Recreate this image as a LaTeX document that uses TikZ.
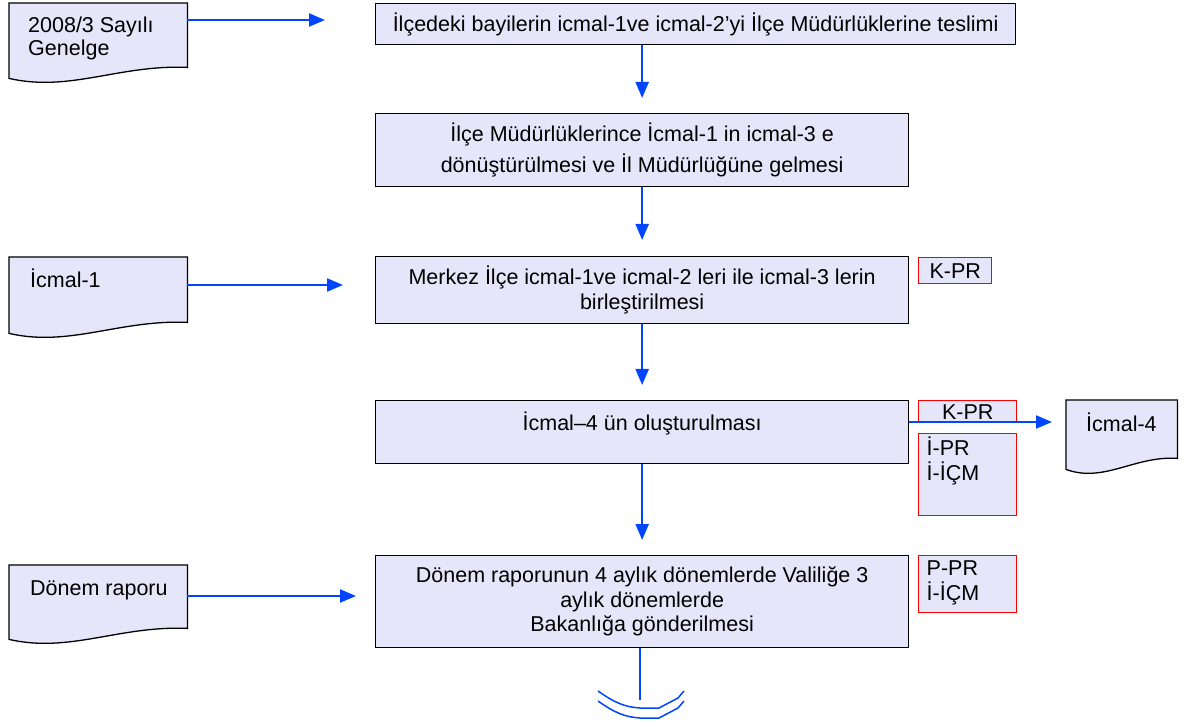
\documentclass[tikz,border=0pt]{standalone}
\usepackage{fontspec}
\setmainfont{Liberation Sans}
\usetikzlibrary{positioning,calc,arrows.meta,backgrounds}
\definecolor{boxfill}{RGB}{230,230,250}
\definecolor{flow}{RGB}{0,70,255}

\begin{document}
\begin{tikzpicture}[x=1pt,y=-1pt,font=\fontsize{21.5}{24.5}\selectfont,
stepbox/.style={draw,fill=boxfill,line width=1.3pt,inner sep=0pt,align=center,anchor=north west},
note/.style={draw=red,fill=boxfill,line width=1.4pt,inner sep=0pt,anchor=north west},
doc/.style={inner sep=0pt,anchor=north west},
docline/.style={draw=black,fill=boxfill,line width=1.3pt},
arr/.style={flow,line width=2.2pt,-{Triangle[length=16pt,width=13pt]}}]
 \useasboundingbox (0,0) rectangle (1187,727);
 % main steps
 \node[stepbox,minimum width=640pt,minimum height=41pt] (teslim) at (375,3)
 {İlçedeki bayilerin icmal-1ve icmal-2’yi İlçe Müdürlüklerine teslimi};
 \node[stepbox,minimum width=533pt,minimum height=73pt] (donus) at (375,113)
 {İlçe Müdürlüklerince İcmal-1 in icmal-3 e\\[7pt]dönüştürülmesi ve İl Müdürlüğüne gelmesi};
 \node[stepbox,minimum width=533pt,minimum height=67pt] (birles) at (375,256)
 {Merkez İlçe icmal-1ve icmal-2 leri ile icmal-3 lerin\\[1pt]birleştirilmesi};
 \node[stepbox,minimum width=533pt,text height=30pt,text depth=33pt] (olustur) at (375,400)
 {İcmal–4 ün oluşturulması};
 \node[stepbox,minimum width=533pt,minimum height=92pt] (rapor) at (375,555)
 {Dönem raporunun 4 aylık dönemlerde Valiliğe 3\\aylık dönemlerde\\Bakanlığa gönderilmesi};
 % documents
 \node[doc] (gen) at (9,3)
 {\parbox[c][64pt][t]{178pt}{\raggedright\leftskip=19pt\rule{0pt}{29pt}2008/3 Sayılı\\[-1.5pt]Genelge}};
 \node[doc] (ic1) at (9,257)
 {\parbox[c][65pt][t]{178pt}{\raggedright\leftskip=21pt\rule{0pt}{30pt}İcmal-1}};
 \node[doc] (rap) at (9,565)
 {\parbox[c][63pt][t]{178pt}{\raggedright\leftskip=21pt\rule{0pt}{30pt}Dönem raporu}};
 \node[doc] (ic4) at (1066,400)
 {\parbox[c][58pt][t]{111pt}{\raggedright\leftskip=20pt\rule{0pt}{31pt}İcmal-4}};
 \begin{scope}[on background layer]
 \foreach \d in {gen,ic1,rap,ic4}
 \filldraw[docline] (\d.south east) -- (\d.north east) -- (\d.north west)
 -- ($(\d.south west)+(0pt,-11pt)$)
 .. controls ($(\d.south west)!0.34!(\d.south east)+(0pt,-25pt)$)
 and ($(\d.south west)!0.62!(\d.south east)+(0pt,3pt)$) .. (\d.south east) -- cycle;
 \end{scope}
 % codes
 \node[note,minimum width=73pt,minimum height=26pt] (kpr1) at (918,257) {K-PR};
 \node[note,minimum width=98pt,minimum height=22pt] (kpr2) at (918,400) {K-PR};
 \node[note,inner xsep=8pt] (ipr) at (918,433)
 {\parbox[c][82pt][t]{82pt}{\rule{0pt}{22pt}İ-PR\\İ-İÇM}};
 \node[note,inner xsep=8pt] (ppr) at (918,555)
 {\parbox[c][57pt][t]{82pt}{\rule{0pt}{20pt}P-PR\\İ-İÇM}};
 % flow
 \draw[arr,shorten >=50pt] ([yshift=-17pt]gen.north east) coordinate (g0) -- (g0 -| teslim.west);
 \draw[arr,shorten >=32pt] ([yshift=-28pt]ic1.north east) coordinate (i0) -- (i0 -| birles.west);
 \draw[arr,shorten >=19pt] ([yshift=-31pt]rap.north east) coordinate (r0) -- (r0 -| rapor.west);
 \draw[arr,shorten >=14pt] ([yshift=-22pt]olustur.north east) coordinate (o0) -- (o0 -| ic4.west);
 \draw[arr,shorten >=15pt] (teslim.south -| donus.north) -- (donus.north);
 \draw[arr,shorten >=16pt] (donus.south) -- (birles.north);
 \draw[arr,shorten >=15pt] (birles.south) -- (olustur.north);
 \draw[arr,shorten >=15pt] (olustur.south) -- (rapor.north);
 \coordinate (son) at (640,700);
 \draw[flow,line width=2pt] (rapor.south -| son) -- (son);
 \foreach \dy in {0,10}
 \draw[flow,line width=1.5pt,shift={(0,\dy)}] (598,691) .. controls (615,703) and (625,707)
 .. (640,708) -- (659,708) -- (678,698) -- (684,691);
\end{tikzpicture}
\end{document}
